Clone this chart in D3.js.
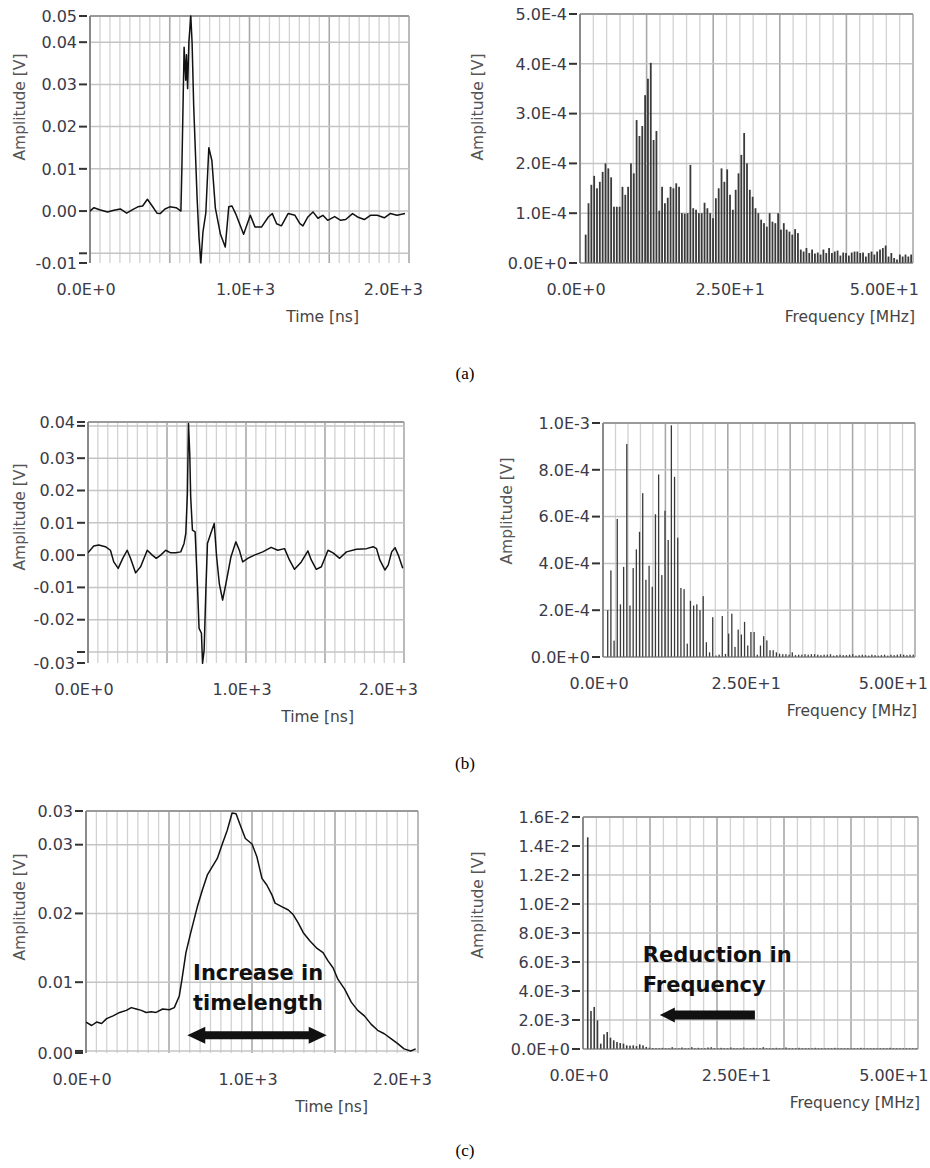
<!DOCTYPE html>
<html>
<head>
<meta charset="utf-8">
<script type="text/javascript" src="https://cdnjs.cloudflare.com/ajax/libs/d3/7.8.5/d3.min.js"></script>
<style>
	body { margin: 0; background: #fff; }
	svg text { font-family: "DejaVu Sans", Tahoma, sans-serif; }
</style>
</head>
<body>
<div id="chart"></div>
<script type="text/javascript">
// ---- time signals [ns, V] ----
var timeA = [[0,0.0000],[25,0.0008],[60,0.0003],[110,-0.0002],[150,0.0002],[190,0.0005],[230,-0.0005],[270,0.0004],[300,0.0010],[330,0.0012],[360,0.0028],[390,0.0012],[420,-0.0005],[440,-0.0006],[470,0.0005],[500,0.0010],[540,0.0008],[570,0.0000],[576,0.0100],[590,0.0388],[600,0.0310],[605,0.0370],[612,0.0290],[620,0.0400],[632,0.0462],[640,0.0400],[650,0.0250],[672,0.0026],[683,-0.0060],[695,-0.0123],[708,-0.0050],[726,-0.0005],[745,0.0150],[764,0.0120],[786,0.0007],[818,-0.0055],[848,-0.0085],[870,0.0010],[890,0.0012],[913,-0.0006],[963,-0.0055],[1005,-0.0010],[1035,-0.0038],[1075,-0.0038],[1118,-0.0014],[1143,-0.0006],[1170,-0.0030],[1200,-0.0035],[1242,-0.0006],[1285,-0.0010],[1316,-0.0030],[1335,-0.0035],[1366,-0.0014],[1398,-0.0002],[1429,-0.0017],[1460,-0.0010],[1490,-0.0022],[1534,-0.0013],[1572,-0.0022],[1603,-0.0020],[1646,-0.0006],[1677,-0.0014],[1720,-0.0020],[1758,-0.0010],[1801,-0.0010],[1845,-0.0016],[1882,-0.0006],[1925,-0.0010],[1975,-0.0006]];

var timeB = [[0,0.0007],[36,0.0028],[68,0.0031],[110,0.0026],[142,0.0015],[163,-0.0021],[191,-0.0041],[220,-0.0010],[248,0.0015],[269,-0.0010],[301,-0.0055],[333,-0.0036],[375,0.0015],[407,0.0000],[432,-0.0010],[460,0.0000],[492,0.0015],[523,0.0007],[555,0.0007],[587,0.0010],[608,0.0036],[619,0.0067],[629,0.0190],[636,0.0407],[644,0.0314],[650,0.0180],[661,0.0077],[678,0.0072],[693,-0.0098],[703,-0.0227],[718,-0.0242],[725,-0.0335],[735,-0.0294],[746,-0.0108],[756,0.0036],[777,0.0067],[799,0.0098],[814,-0.0005],[831,-0.0088],[852,-0.0139],[873,-0.0088],[905,-0.0005],[936,0.0041],[958,0.0015],[979,-0.0021],[1011,-0.0010],[1053,0.0000],[1106,0.0010],[1159,0.0024],[1201,0.0015],[1244,0.0020],[1275,-0.0015],[1307,-0.0044],[1350,-0.0021],[1392,0.0013],[1413,-0.0015],[1445,-0.0044],[1477,-0.0036],[1519,0.0015],[1551,0.0007],[1593,-0.0010],[1636,0.0010],[1699,0.0018],[1763,0.0020],[1805,0.0026],[1826,0.0020],[1847,-0.0015],[1879,-0.0046],[1900,-0.0031],[1922,0.0010],[1943,0.0023],[1964,0.0000],[1992,-0.0041]];

var timeC = [[0,0.0042],[34,0.0037],[64,0.0042],[94,0.0040],[124,0.0047],[163,0.0051],[203,0.0056],[243,0.0059],[273,0.0063],[303,0.0061],[333,0.0059],[363,0.0056],[392,0.0057],[422,0.0056],[462,0.0061],[502,0.0060],[532,0.0063],[562,0.0080],[578,0.0104],[602,0.0143],[631,0.0172],[671,0.0210],[701,0.0234],[731,0.0256],[761,0.0268],[791,0.0280],[821,0.0301],[851,0.0321],[880,0.0346],[904,0.0345],[930,0.0328],[960,0.0309],[1000,0.0301],[1030,0.0282],[1060,0.0251],[1090,0.0241],[1120,0.0227],[1139,0.0215],[1179,0.0210],[1219,0.0205],[1249,0.0198],[1279,0.0186],[1309,0.0172],[1349,0.0160],[1388,0.0150],[1428,0.0143],[1458,0.0131],[1488,0.0121],[1518,0.0104],[1558,0.0090],[1598,0.0071],[1637,0.0059],[1677,0.0051],[1717,0.0039],[1757,0.0030],[1797,0.0025],[1837,0.0018],[1876,0.0011],[1916,0.0003],[1956,0.0000],[1986,0.0003]];

// ---- spectra (amplitude per bin) ----
var specA_e4 = [0.57,1.2,1.57,1.75,1.5,1.63,1.83,2.0,1.9,1.72,1.13,1.13,1.13,1.53,1.37,1.53,2.0,1.8,2.87,2.55,2.75,3.37,3.7,4.02,2.47,2.65,1.05,1.53,1.2,1.31,1.53,1.5,1.6,1.53,1.0,0.99,1.0,1.97,1.1,1.07,1.0,1.0,1.21,1.1,1.0,0.9,1.3,1.5,1.9,1.63,1.88,1.37,1.07,1.47,1.8,2.17,2.61,2.0,1.47,1.33,1.1,1.0,0.87,0.8,0.73,1.0,0.83,0.8,1.0,0.67,0.8,0.67,0.63,0.57,0.68,0.6,0.27,0.23,0.3,0.2,0.27,0.19,0.21,0.17,0.27,0.2,0.3,0.2,0.23,0.25,0.15,0.21,0.2,0.15,0.21,0.23,0.23,0.2,0.21,0.13,0.2,0.23,0.17,0.23,0.27,0.3,0.35,0.13,0.2,0.1,0.07,0.17,0.13,0.17,0.13,0.17];

var specB_e4 = [2.0,3.7,0.7,5.9,2.25,3.85,9.1,2.2,3.8,4.6,5.35,7.0,3.3,3.9,3.0,6.1,7.8,3.5,6.25,5.0,9.9,7.7,5.1,2.95,2.9,0.57,2.4,2.2,2.25,2.0,2.6,0.63,0.2,1.7,0.06,0.1,1.75,0.13,1.0,1.85,0.43,1.17,0.96,1.5,0.49,1.07,1.07,0.1,0.49,0.89,0.71,0.29,0.29,0.2,0.14,0.12,0.12,0.1,0.2,0.08,0.1,0.1,0.12,0.1,0.12,0.12,0.1,0.08,0.1,0.1,0.12,0.06,0.08,0.1,0.08,0.08,0.1,0.12,0.06,0.08,0.1,0.08,0.06,0.1,0.08,0.06,0.08,0.1,0.06,0.1,0.08,0.1,0.12,0.1,0.08,0.1,0.1];

var specC_e3 = [14.6,2.62,2.9,1.98,0.37,1.01,1.17,0.78,0.6,0.48,0.41,0.37,0.25,0.23,0.25,0.2,0.32,0.25,0.14,0.09,0.06,0.05,0.05,0.08,0.05,0.05,0.12,0.05,0.05,0.1,0.05,0.05,0.12,0.05,0.08,0.05,0.05,0.1,0.12,0.05,0.05,0.08,0.05,0.05,0.1,0.05,0.05,0.05,0.1,0.05,0.05,0.08,0.05,0.05,0.12,0.05,0.05,0.05,0.08,0.05,0.05,0.1,0.05,0.05,0.05,0.08,0.05,0.05,0.05,0.05,0.08,0.05,0.05,0.05,0.05,0.05,0.08,0.05,0.05,0.05,0.05,0.05,0.05,0.05,0.08,0.05,0.05,0.05,0.05,0.05,0.05,0.05,0.05,0.08,0.05,0.05,0.05,0.05,0.05,0.05,0.05,0.05];

// ---- axis ticks ----
var timeTickVals = [0, 1000, 2000];
var timeTickLabels = ["0.0E+0", "1.0E+3", "2.0E+3"];
var freqTickVals = [0, 25, 50];
var freqTickLabels = ["0.0E+0", "2.50E+1", "5.00E+1"];
var captions = ["(a)", "(b)", "(c)"];

var svg = d3.select("#chart").append("svg")
	.attr("width", 930).attr("height", 1168)
	.attr("xmlns", "http://www.w3.org/2000/svg");

var clipCount = 0;

function fmt2(v) {
	var r = Math.round(v * 100) / 100;
	return (r === 0 ? 0 : r).toFixed(2);
}
function fmtE(v) {
	return v.toExponential(1).toUpperCase();
}

// grid + frame shared by both panel kinds
function frame(g, b, x, y, xMax, majorStep, nMinor, yTicks) {
	var minorStep = majorStep / nMinor;
	var vals = d3.range(0, Math.round(xMax / minorStep) + 1).map(function(i) { return i * minorStep; })
		.filter(function(v) { return v <= xMax + 1e-9; });
	g.selectAll(".vg").data(vals).enter().append("line")
		.attr("x1", function(d) { return x(d); }).attr("x2", function(d) { return x(d); })
		.attr("y1", b.top).attr("y2", b.bottom)
		.attr("stroke", function(d, i) { return i % nMinor === 0 ? "#a9a9a9" : "#d2d2d2"; })
		.attr("stroke-width", function(d, i) { return i % nMinor === 0 ? 1.6 : 1.3; });
	g.selectAll(".hg").data(yTicks).enter().append("line")
		.attr("x1", b.left).attr("x2", b.right)
		.attr("y1", function(d) { return y(d); }).attr("y2", function(d) { return y(d); })
		.attr("stroke", "#c4c4c4").attr("stroke-width", 1.5);
	g.append("line").attr("x1", b.left).attr("x2", b.right).attr("y1", b.top).attr("y2", b.top)
		.attr("stroke", "#9a9a9a").attr("stroke-width", 2);
	g.append("line").attr("x1", b.left).attr("x2", b.left).attr("y1", b.top).attr("y2", b.bottom)
		.attr("stroke", "#8a8a8a").attr("stroke-width", 2);
}

function yAxisTicks(g, b, y, ticks, fmt) {
	ticks.forEach(function(t) {
		var py = y(t.v);
		g.append("line").attr("x1", b.left - 11).attr("x2", b.left - 3)
			.attr("y1", py).attr("y2", py).attr("stroke", "#333").attr("stroke-width", 2);
		if (t.label) {
			g.append("text").attr("x", b.left - 13).attr("y", py)
				.attr("text-anchor", "end").attr("dy", "0.36em")
				.attr("font-size", 16).attr("fill", "#3a3a48")
				.text(fmt(t.v));
		}
	});
}

function titles(g, b, xTitle, xTitleX, yTitleX, yTitleY) {
	g.append("text").attr("x", xTitleX).attr("y", b.bottom + 59)
		.attr("text-anchor", "end").attr("font-size", 15.5).attr("fill", "#444")
		.text(xTitle);
	g.append("text").attr("transform", "translate(" + yTitleX + "," + yTitleY + ") rotate(-90)")
		.attr("text-anchor", "middle").attr("dy", "0.35em")
		.attr("font-size", 15.5).attr("fill", "#555")
		.text("Amplitude [V]");
}

function clip(g, b) {
	var id = "clip" + (clipCount++);
	g.append("clipPath").attr("id", id).append("rect")
		.attr("x", b.left).attr("y", b.top - 1)
		.attr("width", b.right - b.left).attr("height", b.bottom - b.top + 2);
	return "url(#" + id + ")";
}

function timePanel(b, data, yMin, yMax, yStep, yTitleY) {
	var g = svg.append("g");
	var x = d3.scaleLinear().domain([0, 2000]).range([b.left, b.right]);
	var y = d3.scaleLinear().domain([yMin, yMax]).range([b.bottom, b.top]);
	var yTicks = d3.range(Math.ceil(yMin / yStep - 1e-6), Math.floor(yMax / yStep + 1e-6) + 1)
		.map(function(i) { return i * yStep; });
	frame(g, b, x, y, 2000, 500, 8, yTicks);

	// labelled min / max ends plus interior ticks not too close to them
	var ticks = [{v: yMin, label: true}, {v: yMax, label: true}];
	yTicks.forEach(function(t) {
		var near = Math.abs(y(t) - y(yMin)) < 14 || Math.abs(y(t) - y(yMax)) < 14;
		ticks.push({v: t, label: !near});
	});
	yAxisTicks(g, b, y, ticks, fmt2);

	timeTickVals.forEach(function(v, i) {
		var last = i === timeTickVals.length - 1;
		g.append("text").attr("x", last ? b.right + 14 : x(v) - 4).attr("y", b.bottom + 32)
			.attr("text-anchor", last ? "end" : "middle")
			.attr("font-size", 16).attr("fill", "#3a3a48")
			.text(timeTickLabels[i]);
	});

	g.append("path").datum(data)
		.attr("clip-path", clip(g, b))
		.attr("d", d3.line().x(function(d) { return x(d[0]); }).y(function(d) { return y(d[1]); }))
		.attr("fill", "none").attr("stroke", "#111").attr("stroke-width", 1.5)
		.attr("stroke-linejoin", "round");

	titles(g, b, "Time [ns]", b.right - 50, 20, yTitleY);
	return {x: x, y: y, g: g};
}

function specPanel(b, vals, unit, fMax, fFirst, fLast, yMax, yStep, barW, yTitleX, yTitleY) {
	var g = svg.append("g");
	var x = d3.scaleLinear().domain([0, fMax]).range([b.left, b.right]);
	var y = d3.scaleLinear().domain([0, yMax]).range([b.bottom, b.top]);
	var yTicks = d3.range(0, Math.round(yMax / yStep) + 1).map(function(i) { return i * yStep; });
	frame(g, b, x, y, fMax, fMax / 5, 5, yTicks);
	yAxisTicks(g, b, y, yTicks.map(function(v) { return {v: v, label: true}; }), fmtE);

	freqTickVals.forEach(function(v, i) {
		g.append("text").attr("x", x(v) - 4).attr("y", b.bottom + 32)
			.attr("text-anchor", "middle").attr("font-size", 16).attr("fill", "#3a3a48")
			.text(freqTickLabels[i]);
	});

	var df = (fLast - fFirst) / (vals.length - 1);
	g.append("g").attr("clip-path", clip(g, b))
		.selectAll("rect").data(vals).enter().append("rect")
		.attr("x", function(d, i) { return x(fFirst + i * df) - barW / 2; })
		.attr("width", barW)
		.attr("y", function(d) { return y(d * unit); })
		.attr("height", function(d) { return b.bottom - y(d * unit); })
		.attr("fill", "#3a3a3a");
	g.append("line").attr("x1", b.left).attr("x2", b.right).attr("y1", b.bottom).attr("y2", b.bottom)
		.attr("stroke", "#777").attr("stroke-width", 1);

	titles(g, b, "Frequency [MHz]", b.right + 2, yTitleX, yTitleY);
	return {x: x, y: y, g: g};
}

// ---- panels ----
timePanel({left: 90, top: 16, right: 409, bottom: 263}, timeA, -0.0123, 0.0462, 0.01, 107);
specPanel({left: 580, top: 14, right: 913, bottom: 263}, specA_e4, 1e-4, 54, 0.92, 53.7, 5e-4, 1e-4, 1.8, 478, 107);

timePanel({left: 88, top: 422, right: 404, bottom: 663}, timeB, -0.0334, 0.0412, 0.01, 517);
specPanel({left: 603, top: 423, right: 915, bottom: 657}, specB_e4, 1e-4, 53, 0.8, 52.7, 1e-3, 2e-4, 1.3, 507, 511);

var pc = timePanel({left: 86, top: 811, right: 418, bottom: 1053}, timeC, -0.0003, 0.0349, 0.01, 907);
var pd = specPanel({left: 583, top: 817, right: 918, bottom: 1049}, specC_e3, 1e-3, 53.2, 0.75, 52.9, 1.6e-2, 2e-3, 1.6, 478, 905);

// ---- annotations ----
function arrowPath(x1, x2, yc, shaft, headLen, headH, both) {
	var p = d3.path();
	var s = shaft / 2, h = headH / 2;
	p.moveTo(x1, yc);
	p.lineTo(x1 + headLen, yc - h);
	p.lineTo(x1 + headLen, yc - s);
	if (both) {
		p.lineTo(x2 - headLen, yc - s);
		p.lineTo(x2 - headLen, yc - h);
		p.lineTo(x2, yc);
		p.lineTo(x2 - headLen, yc + h);
		p.lineTo(x2 - headLen, yc + s);
	} else {
		p.lineTo(x2, yc - s);
		p.lineTo(x2, yc + s);
	}
	p.lineTo(x1 + headLen, yc + s);
	p.lineTo(x1 + headLen, yc + h);
	p.closePath();
	return p.toString();
}

pc.g.append("text").attr("x", pc.x(645)).attr("y", pc.y(0.0103))
	.attr("font-size", 21).attr("font-weight", "bold").attr("fill", "#111").text("Increase in");
pc.g.append("text").attr("x", pc.x(645)).attr("y", pc.y(0.0060))
	.attr("font-size", 21).attr("font-weight", "bold").attr("fill", "#111").text("timelength");
pc.g.append("path").attr("d", arrowPath(pc.x(610), pc.x(1450), pc.y(0.0023), 8, 18, 17, true))
	.attr("fill", "#111");

pd.g.append("text").attr("x", pd.x(9.5)).attr("y", pd.y(6.0e-3))
	.attr("font-size", 21).attr("font-weight", "bold").attr("fill", "#111").text("Reduction in");
pd.g.append("text").attr("x", pd.x(9.5)).attr("y", pd.y(3.9e-3))
	.attr("font-size", 21).attr("font-weight", "bold").attr("fill", "#111").text("Frequency");
pd.g.append("path").attr("d", arrowPath(pd.x(12.2), pd.x(27.3), pd.y(2.35e-3), 9, 15, 15, false))
	.attr("fill", "#111");

// ---- captions ----
svg.selectAll(".cap").data(captions).enter().append("text")
	.attr("x", 465).attr("y", function(d, i) { return [379, 769, 1156][i]; })
	.attr("text-anchor", "middle").attr("font-size", 17)
	.attr("font-family", "'Liberation Serif', 'Times New Roman', serif")
	.style("font-family", "'Liberation Serif', 'Times New Roman', serif")
	.text(function(d) { return d; });
</script>
</body>
</html>
